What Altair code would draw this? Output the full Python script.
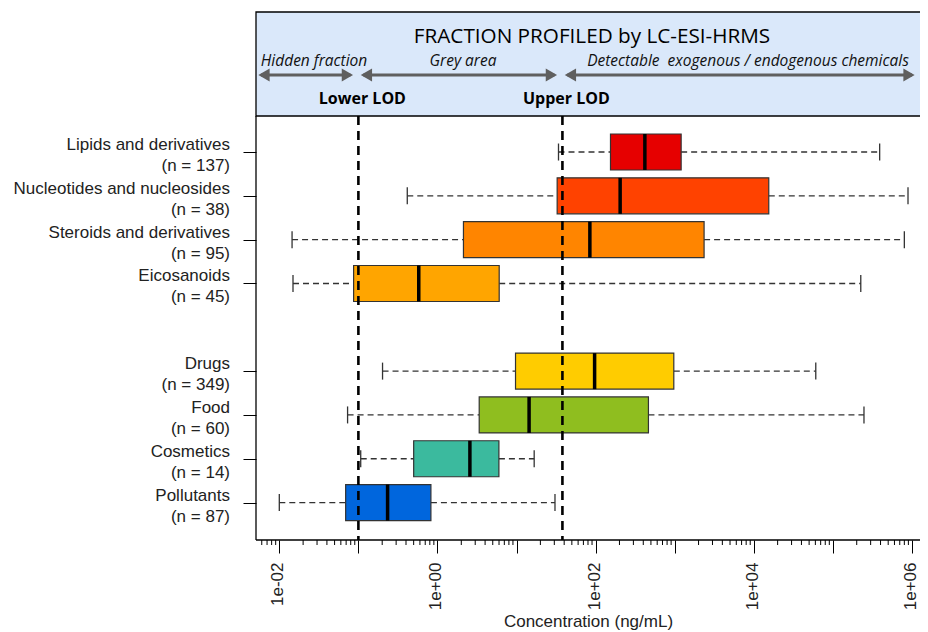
import altair as alt
import pandas as pd

# ---------------- data ----------------
categories = ["Lipids and derivatives", "Nucleotides and nucleosides", "Steroids and derivatives",
              "Eicosanoids", "Drugs", "Food", "Cosmetics", "Pollutants"]
n_values = [137, 38, 95, 45, 349, 60, 14, 87]
slots = [1, 2, 3, 4, 6, 7, 8, 9]
whisker_low = [33.9, 0.415, 0.0145, 0.0149, 0.202, 0.073, 0.107, 0.0100]
q1 = [154, 32.6, 2.13, 0.087, 9.7, 3.37, 0.50, 0.069]
median = [419, 204, 84.5, 0.58, 97, 14.4, 2.57, 0.234]
q3 = [1205, 15450, 2350, 6.03, 973, 465, 5.98, 0.826]
whisker_high = [3.9e5, 8.9e5, 8.0e5, 2.25e5, 6.07e4, 2.47e5, 16.7, 30.6]
colors = ["#e60000", "#ff4200", "#ff8500", "#ffa500", "#ffcc00", "#8fbe1f", "#3bba9e", "#0066dd"]

lod_values = [0.1, 38]
lod_labels = ["Lower LOD", "Upper LOD"]

header_title = "FRACTION PROFILED by LC-ESI-HRMS"
zone_labels = ["Hidden fraction", "Grey area", "Detectable\u00a0\u00a0exogenous / endogenous chemicals"]

x_min, x_max = 0.005074, 1.262e6
decade_ticks = [1e-2, 1e-1, 1e0, 1e1, 1e2, 1e3, 1e4, 1e5, 1e6]
minor_ticks = [m * 10.0 ** k for k in range(-3, 7) for m in range(2, 10)
               if x_min <= m * 10.0 ** k <= x_max]

# ---------------- tables ----------------
df = pd.DataFrame({
    "cat": categories,
    "label": [f"{c}\n(n = {n})" for c, n in zip(categories, n_values)],
    "pos": slots,
    "wl": whisker_low, "q1": q1, "med": median, "q3": q3, "wh": whisker_high,
})
lod_df = pd.DataFrame({"lod": lod_values, "name": lod_labels})
arrow_df = pd.DataFrame({
    "a": [x_min, lod_values[0], lod_values[1]],
    "b": [lod_values[0], lod_values[1], x_max],
})
minor_df = pd.DataFrame({"v": minor_ticks})
dummy = pd.DataFrame({"d": [0]})

W, H = 664, 424
FONT = "Liberation Sans"
HFONT = "Open Sans"

x_scale = alt.Scale(type="log", domain=[x_min, x_max], nice=False, padding=0)
y_scale = alt.Scale(domain=[0.178, 9.854], reverse=True, nice=False, zero=False, padding=0)

label_expr = ("(round(log(datum.value)/LN10) % 2 == 0) ? "
              "('1e' + (round(log(datum.value)/LN10) < 0 ? '-' : '+') + '0' + abs(round(log(datum.value)/LN10))) : ''")
x_axis = alt.Axis(values=decade_ticks, labelExpr=label_expr, tickSize=13, tickColor="black",
                  tickWidth=1, domain=False, grid=False, labelAngle=270, labelPadding=9,
                  labelOffset=-1.5, labelFontSize=17, labelFont=FONT, labelColor="#222",
                  title="Concentration (ng/mL)", titleFontSize=17, titleFont=FONT,
                  titleFontWeight="normal", titleColor="#222", titleY=81, titleBaseline="middle")
y_axis = alt.Axis(values=slots, labels=False, tickSize=13, tickColor="black", tickWidth=1,
                  domain=False, grid=False, title=None)


def X(field):
    return alt.X(field, type="quantitative", scale=x_scale, axis=x_axis)


def Y(field):
    return alt.Y(field, type="quantitative", scale=y_scale, axis=y_axis)


base = alt.Chart(df)

# header panel
header_rect = alt.Chart(dummy).mark_rect(fill="#dae8fa", stroke="black", strokeWidth=1.3).encode(
    x=alt.value(0), x2=alt.value(W + 10), y=alt.value(-104), y2=alt.value(0))
header_title_t = alt.Chart(dummy).mark_text(font=HFONT, fontSize=20.7, color="black").encode(
    x=alt.value(336), y=alt.value(-79), text=alt.value(header_title))
zone_df = pd.DataFrame({"t": zone_labels, "px": [58, 207, 492]})
zone_text = alt.Chart(zone_df).mark_text(font=HFONT, fontSize=15.5, fontStyle="italic", color="#111").encode(
    x=alt.X("px:Q", scale=None), y=alt.value(-55), text="t:N")

arrow_color = "#5f5f5f"
shafts = alt.Chart(arrow_df).mark_rule(color=arrow_color, strokeWidth=3, xOffset=5, x2Offset=-8).encode(
    x=X("a"), x2="b", y=alt.value(-41))
heads_left = alt.Chart(arrow_df).mark_point(shape="triangle-left", filled=True, size=170,
                                            color=arrow_color, opacity=1, xOffset=8).encode(
    x=X("a"), y=alt.value(-41))
heads_right = alt.Chart(arrow_df).mark_point(shape="triangle-right", filled=True, size=170,
                                             color=arrow_color, opacity=1, xOffset=-11).encode(
    x=X("b"), y=alt.value(-41))
lod_text = alt.Chart(lod_df).mark_text(font=HFONT, fontSize=16, fontWeight="bold", color="black", dx=4).encode(
    x=X("lod"), y=alt.value(-17), text="name:N")

# plot frame (right side lies beyond the visible page)
frame_left = alt.Chart(dummy).mark_rule(color="black", strokeWidth=1.3).encode(
    x=alt.value(0), y=alt.value(0), y2=alt.value(H))
frame_bottom = alt.Chart(dummy).mark_rule(color="black", strokeWidth=1.3).encode(
    x=alt.value(0), x2=alt.value(W + 10), y=alt.value(H))

# boxplots
wlow = base.mark_rule(color="#333", strokeWidth=1.3, strokeDash=[6, 4]).encode(
    x=X("wl"), x2="q1", y=Y("pos"))
whigh = base.mark_rule(color="#333", strokeWidth=1.3, strokeDash=[6, 4]).encode(
    x=X("q3"), x2="wh", y=Y("pos"))
cap_low = base.mark_tick(orient="vertical", size=17, thickness=1.3, color="#333", opacity=1).encode(
    x=X("wl"), y=Y("pos"))
cap_high = base.mark_tick(orient="vertical", size=17, thickness=1.3, color="#333", opacity=1).encode(
    x=X("wh"), y=Y("pos"))
boxes = base.mark_bar(size=36, orient="horizontal", stroke="#333", strokeWidth=1.2, opacity=1).encode(
    x=X("q1"), x2="q3", y=Y("pos"),
    color=alt.Color("cat:N", scale=alt.Scale(domain=categories, range=colors), legend=None))
medians = base.mark_tick(orient="vertical", size=36, thickness=3.5, color="black", opacity=1).encode(
    x=X("med"), y=Y("pos"))

lod_lines = alt.Chart(lod_df).mark_rule(color="black", strokeWidth=2.6, strokeDash=[9, 6]).encode(
    x=X("lod"))

ylabels = base.mark_text(align="right", baseline="middle", lineBreak="\n", font=FONT, fontSize=17,
                         lineHeight=21, color="#222", dy=-7).encode(
    x=alt.value(-26), y=Y("pos"), text="label:N")

minor = alt.Chart(minor_df).mark_rule(color="black", strokeWidth=1).encode(
    x=X("v"), y=alt.value(H), y2=alt.value(H + 5))

chart = alt.layer(
    header_rect, header_title_t, zone_text, shafts, heads_left, heads_right, lod_text,
    frame_left, frame_bottom,
    wlow, whigh, cap_low, cap_high, boxes, medians, lod_lines, ylabels, minor
).properties(
    width=W, height=H,
    autosize=alt.AutoSizeParams(type="none"),
    padding={"left": 248, "top": 108, "right": 0, "bottom": 90},
).configure_view(strokeWidth=0)

chart.save("out.html", embed_options={"renderer": "svg", "actions": False})
